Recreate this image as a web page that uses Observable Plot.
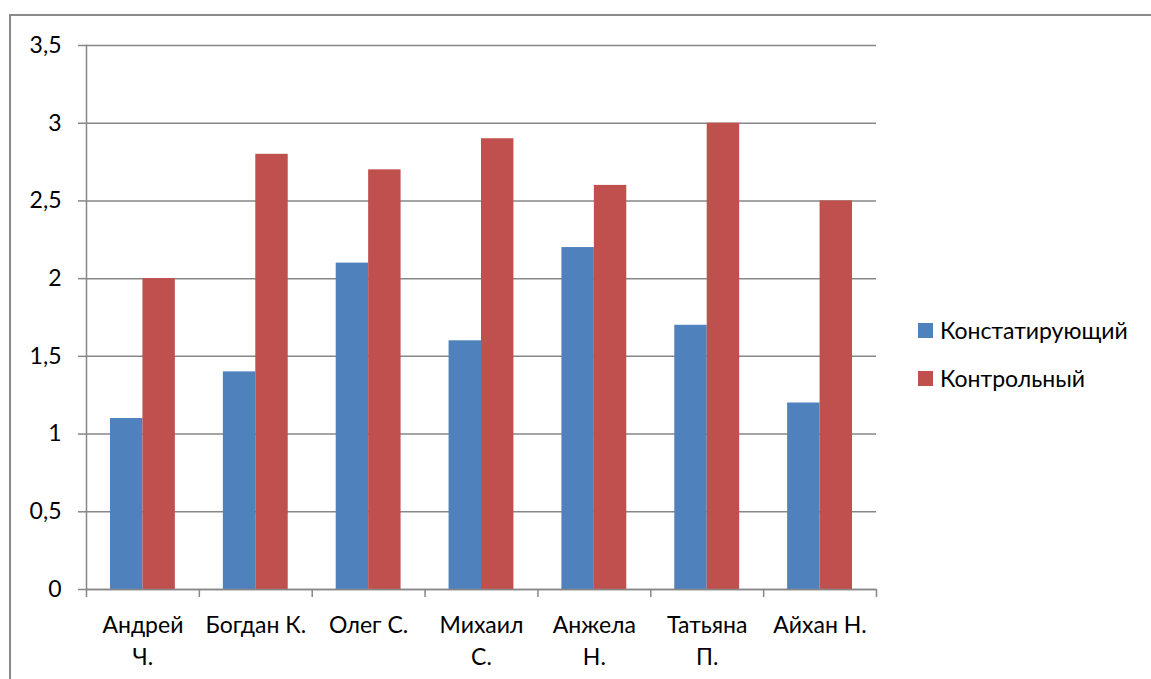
<!DOCTYPE html>
<html>
<head>
<meta charset="utf-8">
<script src="https://cdn.jsdelivr.net/npm/d3@7"></script>
<script src="https://cdn.jsdelivr.net/npm/@observablehq/plot@0.6"></script>
<style>
  html, body { margin: 0; padding: 0; background: #fff; }
  #wrap { position: relative; width: 1151px; height: 679px; overflow: hidden; font-family: Lato, sans-serif; }
  #frame { position: absolute; left: 9px; top: 14px; width: 1200px; height: 720px; border: 2px solid #8a8a8a; box-sizing: border-box; }
  #chart { position: absolute; left: 0; top: 0; }
  .leg { position: absolute; left: 918px; display: flex; align-items: center; font-size: 23px; color: #000; }
  .leg .sw { width: 15px; height: 15px; margin-right: 7px; }
</style>
</head>
<body>
<div id="wrap">
  <div id="frame"></div>
  <div id="chart"></div>
  <div id="legend"></div>
</div>
<script>
const names = ["Андрей Ч.", "Богдан К.", "Олег С.", "Михаил С.", "Анжела Н.", "Татьяна П.", "Айхан Н."];
const tickLabels = ["Андрей\nЧ.", "Богдан К.", "Олег С.", "Михаил\nС.", "Анжела\nН.", "Татьяна\nП.", "Айхан Н."];
const seriesNames = ["Констатирующий", "Контрольный"];
const constat = [1.1, 1.4, 2.1, 1.6, 2.2, 1.7, 1.2];
const control = [2.0, 2.8, 2.7, 2.9, 2.6, 3.0, 2.5];
const yTicks = [0, 0.5, 1, 1.5, 2, 2.5, 3, 3.5];
const colors = ["#4F81BD", "#C0504D"];

const rows = names.map((n, i) => ({name: n, a: constat[i], b: control[i]}));
const labelOf = new Map(names.map((n, i) => [n, tickLabels[i]]));

const W = 1151, H = 679, mL = 86, mR = 275, mT = 45, mB = 90;
const bw = (W - mL - mR) / names.length;
const gap = 24, barW = (bw - 2 * gap) / 2;
const gray = "#878787";

const chart = Plot.plot({
  width: W, height: H,
  marginLeft: mL, marginRight: mR, marginTop: mT, marginBottom: mB,
  style: {fontFamily: "Lato, sans-serif", background: "transparent", color: "#000"},
  x: {domain: names, padding: 0, round: false, label: null},
  y: {domain: [0, 3.5], label: null},
  marks: [
    Plot.ruleY(yTicks, {stroke: gray, strokeWidth: 1.5}),
    Plot.barY(rows, {x: "name", y: "a", fill: colors[0], insetLeft: gap, insetRight: gap + barW}),
    Plot.barY(rows, {x: "name", y: "b", fill: colors[1], insetLeft: gap + barW, insetRight: gap}),
    Plot.frame({anchor: "left", stroke: gray, strokeWidth: 1.5}),
    Plot.ruleY([0], {stroke: gray, strokeWidth: 1.5}),
    Plot.axisY({ticks: yTicks, tickFormat: d => String(d).replace(".", ","), tickSize: 8, tickPadding: 17, fontSize: 23, stroke: gray, strokeWidth: 1.5, fill: "#000", label: null}),
    Plot.axisX({tickSize: 0, tickPadding: 21, tickFormat: d => labelOf.get(d), lineHeight: 1.38, fontSize: 23, fill: "#000", label: null}),
    Plot.axisX({tickSize: 8, fill: "none", stroke: gray, strokeWidth: 1.5, dx: -bw / 2, label: null}),
    Plot.axisX({ticks: [names[names.length - 1]], tickSize: 8, fill: "none", stroke: gray, strokeWidth: 1.5, dx: bw / 2, label: null})
  ]
});
document.getElementById("chart").appendChild(chart);

const legend = document.getElementById("legend");
const legTops = [316, 364];
seriesNames.forEach((s, i) => {
  const d = document.createElement("div");
  d.className = "leg";
  d.style.top = legTops[i] + "px";
  d.innerHTML = `<span class="sw" style="background:${colors[i]}"></span><span>${s}</span>`;
  legend.appendChild(d);
});
</script>
</body>
</html>
